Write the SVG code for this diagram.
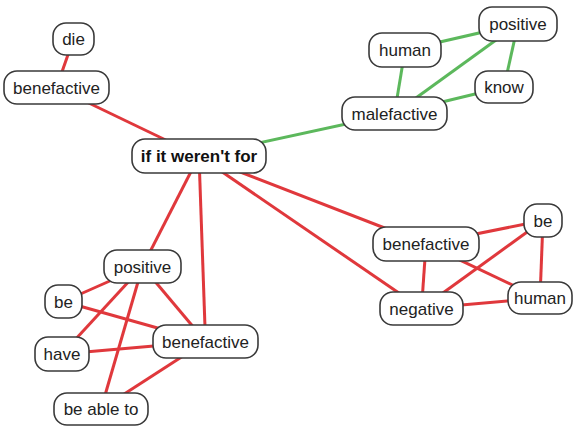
<svg xmlns="http://www.w3.org/2000/svg" width="574" height="426" viewBox="0 0 574 426">
<style>
.r{stroke:#e0383c;stroke-width:3;fill:none}
.g{stroke:#5cb85c;stroke-width:3;fill:none}
.n rect{fill:#fff;stroke:#3a3a3a;stroke-width:1.6}
.n text{font-family:"Liberation Sans",Arial,sans-serif;font-size:17px;fill:#222;text-anchor:middle}
.b text{font-weight:bold;fill:#111}
</style>
<rect width="574" height="426" fill="#fff"/>
<g id="connectors">
<line class="r" x1="73.5" y1="39" x2="56.5" y2="87.5"/>
<line class="r" x1="56.5" y1="87.5" x2="199" y2="156"/>
<line class="g" x1="199" y1="156" x2="394.5" y2="113.5"/>
<line class="g" x1="405" y1="50" x2="518" y2="24"/>
<line class="g" x1="405" y1="50" x2="394.5" y2="113.5"/>
<line class="g" x1="518" y1="24" x2="394.5" y2="113.5"/>
<line class="g" x1="518" y1="24" x2="504" y2="87"/>
<line class="g" x1="504" y1="87" x2="394.5" y2="113.5"/>
<line class="r" x1="199" y1="156" x2="142.5" y2="266.5"/>
<line class="r" x1="199" y1="156" x2="205.5" y2="341.5"/>
<line class="r" x1="199" y1="156" x2="426" y2="244"/>
<line class="r" x1="199" y1="156" x2="421.5" y2="308.5"/>
<line class="r" x1="142.5" y1="266.5" x2="63.5" y2="301.5"/>
<line class="r" x1="142.5" y1="266.5" x2="62" y2="354"/>
<line class="r" x1="142.5" y1="266.5" x2="101" y2="409"/>
<line class="r" x1="142.5" y1="266.5" x2="205.5" y2="341.5"/>
<line class="r" x1="63.5" y1="301.5" x2="205.5" y2="341.5"/>
<line class="r" x1="62" y1="354" x2="205.5" y2="341.5"/>
<line class="r" x1="205.5" y1="341.5" x2="101" y2="409"/>
<line class="r" x1="426" y1="244" x2="543" y2="220.5"/>
<line class="r" x1="426" y1="244" x2="421.5" y2="308.5"/>
<line class="r" x1="426" y1="244" x2="540" y2="298"/>
<line class="r" x1="543" y1="220.5" x2="421.5" y2="308.5"/>
<line class="r" x1="543" y1="220.5" x2="540" y2="298"/>
<line class="r" x1="421.5" y1="308.5" x2="540" y2="298"/>
</g>
<g id="die" class="n"><rect x="53" y="23" width="41" height="32" rx="13"/><text x="73.5" y="45">die</text></g>
<g id="benefactive1" class="n"><rect x="4" y="71" width="105" height="33" rx="13"/><text x="56.5" y="93.5">benefactive</text></g>
<g id="ifitwerentfor" class="n b"><rect x="132" y="139" width="134" height="34" rx="13"/><text x="199" y="162">if it weren't for</text></g>
<g id="positive1" class="n"><rect x="479" y="7" width="78" height="34" rx="13"/><text x="518" y="30">positive</text></g>
<g id="human1" class="n"><rect x="369" y="33" width="72" height="34" rx="13"/><text x="405" y="56">human</text></g>
<g id="know" class="n"><rect x="475" y="71" width="58" height="32" rx="13"/><text x="504" y="93">know</text></g>
<g id="malefactive" class="n"><rect x="342" y="97" width="105" height="33" rx="13"/><text x="394.5" y="119.5">malefactive</text></g>
<g id="positive2" class="n"><rect x="104" y="250" width="77" height="33" rx="13"/><text x="142.5" y="272.5">positive</text></g>
<g id="be1" class="n"><rect x="45" y="285" width="37" height="33" rx="13"/><text x="63.5" y="307.5">be</text></g>
<g id="have" class="n"><rect x="35" y="337" width="54" height="34" rx="13"/><text x="62" y="360">have</text></g>
<g id="benefactive2" class="n"><rect x="153" y="325" width="105" height="33" rx="13"/><text x="205.5" y="347.5">benefactive</text></g>
<g id="beableto" class="n"><rect x="54" y="393" width="94" height="32" rx="13"/><text x="101" y="415">be able to</text></g>
<g id="benefactive3" class="n"><rect x="373" y="227" width="106" height="34" rx="13"/><text x="426" y="250">benefactive</text></g>
<g id="be2" class="n"><rect x="524" y="204" width="38" height="33" rx="13"/><text x="543" y="226.5">be</text></g>
<g id="negative" class="n"><rect x="380" y="292" width="83" height="33" rx="13"/><text x="421.5" y="314.5">negative</text></g>
<g id="human2" class="n"><rect x="508" y="282" width="64" height="32" rx="13"/><text x="540" y="304">human</text></g>
</svg>
